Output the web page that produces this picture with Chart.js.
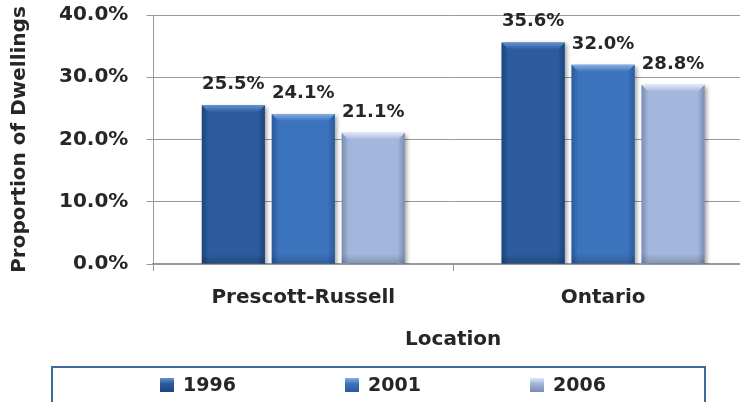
<!DOCTYPE html>
<html>
<head>
<meta charset="utf-8">
<title>Proportion of Dwellings by Location</title>
<script src="https://cdn.jsdelivr.net/npm/chart.js@4.4.1/dist/chart.umd.min.js"></script>
<style>
    html, body { margin: 0; padding: 0; background: #fff; overflow: hidden; }
    #wrap { width: 760px; height: 402px; }
</style>
</head>
<body>
<div id="wrap"><canvas id="dwellingsChart" width="760" height="402"></canvas></div>
<script>
// Dados do gráfico
const locations = ['Prescott-Russell', 'Ontario'];
const years = ['1996', '2001', '2006'];
const share1996 = [25.5, 35.6];
const share2001 = [24.1, 32.0];
const share2006 = [21.1, 28.8];
const yTickValues = [0, 10, 20, 30, 40];

// Cores das barras: corpo, chanfro superior, laterais
const barColors = [
    { body: '#2C5C9E', top: '#6592D2', side: '#1D447C' },
    { body: '#3C73BD', top: '#86AEE3', side: '#2A5A9C' },
    { body: '#A3B6DB', top: '#E0E8F6', side: '#7C8CB1' }
];

const textColor = '#262626';
const gridColor = '#9A9A9A';
Chart.defaults.font.family = '"DejaVu Sans", Verdana, sans-serif';
Chart.defaults.font.weight = 'bold';
Chart.defaults.color = textColor;

// Sombra suave atrás das barras
const barShadow = {
    id: 'barShadow',
    beforeDatasetsDraw(chart) {
        const ctx = chart.ctx;
        ctx.save();
        ctx.shadowColor = 'rgba(0, 0, 0, 0.35)';
        ctx.shadowBlur = 4;
        ctx.shadowOffsetX = 2;
        ctx.shadowOffsetY = 2;
    },
    afterDatasetsDraw(chart) {
        chart.ctx.restore();
    }
};

// Efeito chanfrado + rótulos de valor
const bevelAndLabels = {
    id: 'bevelAndLabels',
    afterDatasetsDraw(chart) {
        const ctx = chart.ctx;
        const b = 7;
        chart.data.datasets.forEach((ds, di) => {
            const meta = chart.getDatasetMeta(di);
            const c = barColors[di];
            meta.data.forEach((bar, i) => {
                const { x, y, base, width } = bar.getProps(['x', 'y', 'base', 'width'], true);
                const l = x - width / 2, r = x + width / 2;

                ctx.save();
                // laterais
                let g = ctx.createLinearGradient(l, 0, l + b, 0);
                g.addColorStop(0, c.side);
                g.addColorStop(1, c.body);
                ctx.fillStyle = g;
                ctx.beginPath();
                ctx.moveTo(l, y); ctx.lineTo(l + b, y + b); ctx.lineTo(l + b, base); ctx.lineTo(l, base);
                ctx.closePath(); ctx.fill();

                g = ctx.createLinearGradient(r, 0, r - b, 0);
                g.addColorStop(0, c.side);
                g.addColorStop(1, c.body);
                ctx.fillStyle = g;
                ctx.beginPath();
                ctx.moveTo(r, y); ctx.lineTo(r - b, y + b); ctx.lineTo(r - b, base); ctx.lineTo(r, base);
                ctx.closePath(); ctx.fill();

                // chanfro superior
                g = ctx.createLinearGradient(0, y, 0, y + b);
                g.addColorStop(0, c.top);
                g.addColorStop(1, c.body);
                ctx.fillStyle = g;
                ctx.beginPath();
                ctx.moveTo(l, y); ctx.lineTo(r, y); ctx.lineTo(r - b, y + b); ctx.lineTo(l + b, y + b);
                ctx.closePath(); ctx.fill();

                // sombreado na base
                g = ctx.createLinearGradient(0, base - 10, 0, base);
                g.addColorStop(0, 'rgba(0,0,0,0)');
                g.addColorStop(1, 'rgba(0,0,0,0.18)');
                ctx.fillStyle = g;
                ctx.fillRect(l, base - 10, width, 10);
                ctx.restore();

                // rótulo
                ctx.save();
                ctx.font = 'bold 18px "DejaVu Sans", Verdana, sans-serif';
                ctx.fillStyle = textColor;
                ctx.textAlign = 'center';
                ctx.textBaseline = 'alphabetic';
                ctx.fillText(ds.data[i].toFixed(1) + '%', x, y - 16);
                ctx.restore();
            });
        });
    }
};

// Legenda com moldura (aberta embaixo)
const boxedLegend = {
    id: 'boxedLegend',
    afterDraw(chart) {
        const ctx = chart.ctx;
        const left = 52, right = 705, top = 367, bottom = chart.height + 4;
        ctx.save();
        ctx.strokeStyle = '#3F6A9F';
        ctx.lineWidth = 2;
        ctx.beginPath();
        ctx.moveTo(left, bottom); ctx.lineTo(left, top); ctx.lineTo(right, top); ctx.lineTo(right, bottom);
        ctx.stroke();

        ctx.font = 'bold 19px "DejaVu Sans", Verdana, sans-serif';
        ctx.textBaseline = 'middle';
        ctx.fillStyle = textColor;
        const cy = 385;
        chart.data.datasets.forEach((ds, di) => {
            const c = barColors[di];
            const sx = left + 108 + di * 185;
            const g = ctx.createLinearGradient(sx, cy - 7, sx, cy + 7);
            g.addColorStop(0, c.top);
            g.addColorStop(0.4, c.body);
            g.addColorStop(1, c.side);
            ctx.fillStyle = g;
            ctx.fillRect(sx, cy - 7, 14, 14);
            ctx.fillStyle = textColor;
            ctx.fillText(ds.label, sx + 23, cy + 1);
        });
        ctx.restore();
    }
};

const ctx = document.getElementById('dwellingsChart').getContext('2d');
new Chart(ctx, {
    type: 'bar',
    data: {
        labels: locations,
        datasets: [
            { label: years[0], data: share1996, backgroundColor: barColors[0].body },
            { label: years[1], data: share2001, backgroundColor: barColors[1].body },
            { label: years[2], data: share2006, backgroundColor: barColors[2].body }
        ]
    },
    options: {
        responsive: false,
        animation: false,
        devicePixelRatio: 1,
        categoryPercentage: 0.7,
        barPercentage: 0.9,
        layout: { padding: { left: 8, top: 0, right: 7, bottom: 50 } },
        plugins: {
            legend: { display: false },
            tooltip: { enabled: false }
        },
        scales: {
            x: {
                grid: {
                    offset: true,
                    drawOnChartArea: false,
                    tickLength: 7,
                    color: gridColor
                },
                border: { display: true, color: gridColor, width: 2 },
                ticks: { padding: 15, font: { size: 20 }, color: textColor },
                title: {
                    display: true,
                    text: 'Location',
                    font: { size: 20 },
                    color: textColor,
                    padding: { top: 3, bottom: 0 }
                }
            },
            y: {
                min: 0,
                max: 40,
                afterBuildTicks: scale => {
                    scale.ticks = yTickValues.map(v => ({ value: v }));
                },
                // o rótulo 40.0% pode ficar junto do topo
                afterFit: scale => {
                    scale.paddingTop = 15;
                },
                grid: {
                    color: gridColor,
                    lineWidth: 1,
                    tickLength: 7
                },
                border: { display: true, color: gridColor },
                ticks: {
                    padding: 18,
                    font: { size: 20 },
                    color: textColor,
                    callback: value => value.toFixed(1) + '%'
                },
                title: {
                    display: true,
                    text: 'Proportion of Dwellings',
                    font: { size: 20 },
                    color: textColor,
                    padding: { top: 0, bottom: 9 }
                }
            }
        }
    },
    plugins: [barShadow, bevelAndLabels, boxedLegend]
});
</script>
</body>
</html>
